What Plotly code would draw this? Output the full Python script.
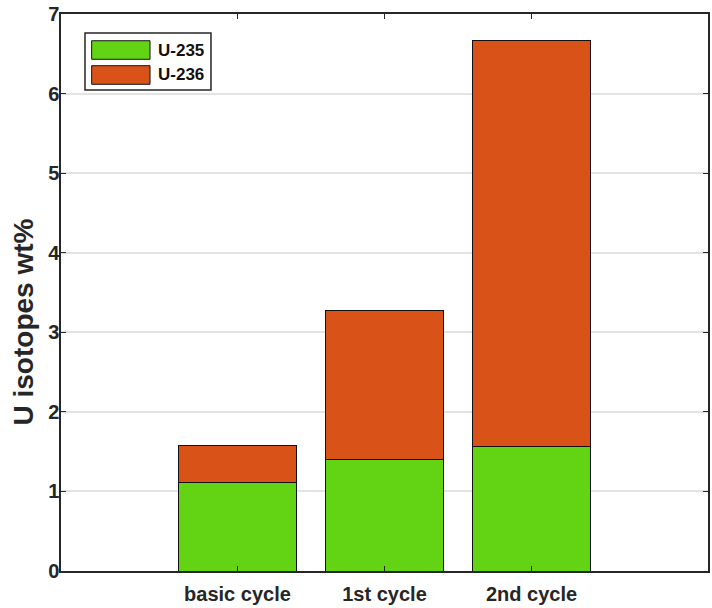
import plotly.graph_objects as go

categories = ["basic cycle", "1st cycle", "2nd cycle"]
positions = [1, 2, 3]
u235 = [1.11, 1.40, 1.57]
u236 = [0.47, 1.88, 5.10]
yticks = [0, 1, 2, 3, 4, 5, 6, 7]
series_names = ["U-235", "U-236"]
series_colors = ["#63D414", "#D95319"]

fig = go.Figure()
for name, vals, col in zip(series_names, [u235, u236], series_colors):
    fig.add_trace(go.Bar(x=positions, y=vals, name=name, width=0.8, showlegend=False,
                         marker=dict(color=col, line=dict(color="#111111", width=1))))

# MATLAB-style legend: framed box with wide colour swatches
shapes = [dict(type="rect", xref="paper", yref="paper", x0=0.0371, x1=0.2318,
               y0=0.8636, y1=0.9659, line=dict(color="#262626", width=1.5),
               fillcolor="white", layer="above")]
annotations = []
sw_tops = [0.952, 0.9072]
sw_bots = [0.9187, 0.8738]
for name, col, t, b in zip(series_names, series_colors, sw_tops, sw_bots):
    shapes.append(dict(type="rect", xref="paper", yref="paper", x0=0.0474, x1=0.1376,
                       y0=b, y1=t, fillcolor=col, line=dict(color="#111111", width=1),
                       layer="above"))
    annotations.append(dict(text="<b>%s</b>" % name, xref="paper", yref="paper",
                            x=0.1470, y=(t + b) / 2, xanchor="left", yanchor="middle",
                            showarrow=False,
                            font=dict(family="Liberation Sans, Arial", size=17, color="#111111")))

annotations.append(dict(text="<b>U isotopes wt%</b>", textangle=-90,
                        xref="paper", yref="paper", x=-0.058, y=0.447,
                        xanchor="center", yanchor="middle", showarrow=False,
                        font=dict(family="Liberation Sans, Arial", size=28, color="#262626")))

axis_font = dict(family="Liberation Sans, Arial", size=20, color="#262626")
fig.update_layout(
    barmode="stack",
    width=712, height=608,
    margin=dict(l=61, r=4, t=14, b=37),
    plot_bgcolor="white", paper_bgcolor="white",
    font=dict(family="Liberation Sans, Arial", color="#262626"),
    showlegend=False,
    xaxis=dict(range=[-0.2, 4.2], tickmode="array", tickvals=positions,
               ticktext=["<b>%s</b>" % c for c in categories],
               tickfont=axis_font, ticks="inside", ticklen=5, tickcolor="#262626",
               ticklabelstandoff=4, automargin=False,
               showline=True, linecolor="#262626", linewidth=1.5, mirror="ticks",
               showgrid=False, zeroline=False),
    yaxis=dict(range=[0, 7], tickmode="array", tickvals=yticks,
               ticktext=["<b>%d</b>" % v for v in yticks],
               tickfont=axis_font, ticks="inside", ticklen=5, tickcolor="#262626",
               ticklabeloverflow="allow", ticklabelstandoff=-4, automargin=False,
               showline=True, linecolor="#262626", linewidth=1.5, mirror="ticks",
               showgrid=True, gridcolor="#E3E3E3", gridwidth=1.5, zeroline=False),
    shapes=shapes,
    annotations=annotations,
)

fig.write_html("out.html", config={"displayModeBar": False},
               post_script="document.body.style.margin='0px';")
